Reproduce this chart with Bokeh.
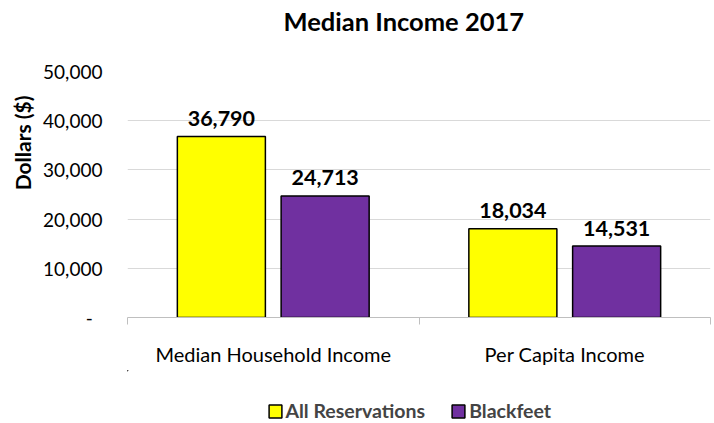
import numpy as np
from bokeh.plotting import figure
from bokeh.layouts import column
from bokeh.models import (Range1d, FixedTicker, CustomJSTickFormatter, Legend, LegendItem,
                          Title, ColumnDataSource)
from bokeh.core.properties import value
from bokeh.embed import file_html
from bokeh.resources import INLINE

# ---- data ----
categories = ["Median Household Income", "Per Capita Income"]
series_names = ["All Reservations", "Blackfeet"]
all_reservations = [36790, 18034]
blackfeet = [24713, 14531]
y_ticks = [0, 10000, 20000, 30000, 40000, 50000]
title_text = "Median Income 2017"
y_label = "Dollars ($)"

FONT = "Lato"
YELLOW = "#FFFF00"
PURPLE = "#7030A0"

W = 714
H1, H2 = 370, 53
p = figure(width=W, height=H1, output_backend="svg", toolbar_location=None,
           x_range=Range1d(0, len(categories)), y_range=Range1d(0, 50000),
           min_border_left=127, min_border_right=4, min_border_top=71, min_border_bottom=53)
p.outline_line_color = None
p.background_fill_color = "white"
p.border_fill_color = "white"

base = np.arange(len(categories)) + 0.5
off = 0.178
bw = 0.302

src1 = ColumnDataSource(dict(x=base - off, top=all_reservations,
                             lab=[f"{v:,}" for v in all_reservations]))
src2 = ColumnDataSource(dict(x=base + off, top=blackfeet,
                             lab=[f"{v:,}" for v in blackfeet]))

bar_style = [dict(fill_color=YELLOW, line_color="black", line_width=1.5),
             dict(fill_color=PURPLE, line_color="black", line_width=1.5)]

r1 = p.vbar(x="x", top="top", width=bw, source=src1, **bar_style[0])
r2 = p.vbar(x="x", top="top", width=bw, source=src2, **bar_style[1])

for s in (src1, src2):
    p.text(x="x", y="top", text="lab", source=s, text_font=value(FONT),
           text_font_style="bold", text_font_size="21.5px", text_color="black",
           text_align="center", text_baseline="alphabetic", y_offset=-18)

# x axis
xa = p.xaxis[0]
xa.ticker = FixedTicker(ticks=list(base), minor_ticks=list(range(len(categories) + 1)))
xa.formatter = CustomJSTickFormatter(args=dict(cats=categories),
                                     code="return cats[Math.floor(tick)];")
xa.axis_line_color = "#BFBFBF"
xa.major_tick_line_color = None
xa.major_tick_out = 0
xa.major_tick_in = 0
xa.minor_tick_line_color = "#BFBFBF"
xa.minor_tick_in = 0
xa.minor_tick_out = 7
xa.major_label_standoff = 17
xa.major_label_text_font = FONT
xa.major_label_text_font_size = "20px"
xa.major_label_text_color = "#000000"

# y axis
ya = p.yaxis[0]
ya.ticker = FixedTicker(ticks=y_ticks)
ya.formatter = CustomJSTickFormatter(
    code="return tick == 0 ? '-\\u00a0\\u00a0' : tick.toLocaleString('en-US');")
ya.axis_line_color = None
ya.major_tick_line_color = None
ya.minor_tick_line_color = None
ya.major_tick_out = 0
ya.major_label_standoff = 25
ya.major_label_text_font = FONT
ya.major_label_text_font_size = "19px"
ya.major_label_text_color = "#000000"

p.xgrid.grid_line_color = None
p.ygrid.ticker = FixedTicker(ticks=y_ticks)
p.ygrid.grid_line_color = "#D9D9D9"
p.ygrid.grid_line_width = 1

# title
p.title.text = title_text
p.title.align = "left"
p.title.offset = 156
p.title.text_font = FONT
p.title.text_font_style = "bold"
p.title.text_font_size = "25.5px"
p.title.text_color = "black"
p.title.standoff = 4
# spacer between the title and the plot area
p.add_layout(Title(text="\u00a0", text_font_size="1px", standoff=31), "above")

# y axis label as a side title
p.add_layout(Title(text=y_label, align="right", offset=24, standoff=12,
                   text_font=FONT, text_font_style="bold", text_font_size="21px",
                   text_color="black"), "left")

# legend strip (separate figure so the legend is not clipped by the plot frame);
# its renderers share the bar data but lie entirely outside this strip's visible ranges
p2 = figure(width=W, height=H2, output_backend="svg", toolbar_location=None,
            x_range=Range1d(10, 11), y_range=Range1d(-2, -1),
            x_axis_type=None, y_axis_type=None, min_border=0)
p2.outline_line_color = None
p2.grid.grid_line_color = None
l1 = p2.vbar(x="x", top="top", width=bw, source=src1, **bar_style[0])
l2 = p2.vbar(x="x", top="top", width=bw, source=src2, **bar_style[1])

legend = Legend(items=[LegendItem(label=series_names[0], renderers=[l1]),
                       LegendItem(label=series_names[1], renderers=[l2])],
                orientation="horizontal", location=(139.5, 1),
                border_line_color=None, background_fill_alpha=0,
                padding=0, margin=0, spacing=25, glyph_width=16, glyph_height=16,
                label_standoff=3, label_text_font=FONT, label_text_font_style="bold",
                label_text_font_size="19.5px", label_height=20)
p2.add_layout(legend)

layout = column(p, p2, spacing=0)
open("out.html", "w").write(file_html(layout, INLINE))
